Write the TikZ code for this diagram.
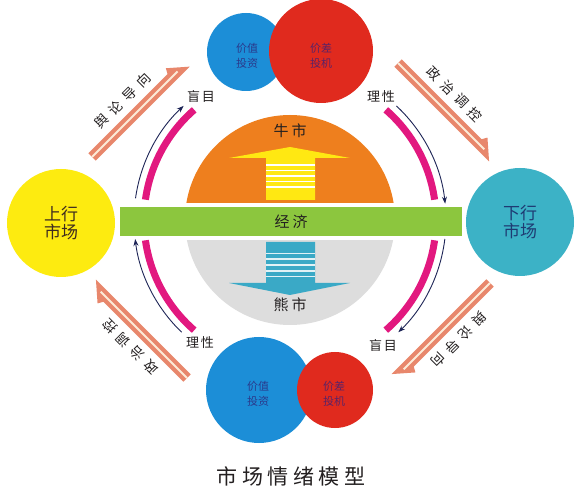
\documentclass[tikz,border=0pt]{standalone}
\usepackage{fontspec}
\setmainfont{Noto Sans CJK SC}
\usetikzlibrary{arrows.meta}
\definecolor{blueC}{HTML}{1C8ED7}
\definecolor{redC}{HTML}{E02A1E}
\definecolor{yellowC}{HTML}{FDEB10}
\definecolor{tealC}{HTML}{3CB2C6}
\definecolor{orangeC}{HTML}{EE7F1E}
\definecolor{grayC}{HTML}{DDDDDD}
\definecolor{greenC}{HTML}{8CC63E}
\definecolor{yellowA}{HTML}{FFE812}
\definecolor{tealA}{HTML}{3AA9C6}
\definecolor{magentaC}{HTML}{E2187F}
\definecolor{navyC}{HTML}{1E2557}
\definecolor{salmonC}{HTML}{E8876C}
\definecolor{creamC}{HTML}{FCEBD8}
\definecolor{darkT}{HTML}{231F20}
\definecolor{blueT}{HTML}{2A3A8C}
\definecolor{redT}{HTML}{5B2366}
\definecolor{brownT}{HTML}{3D2B1F}
\definecolor{navyT}{HTML}{1F3B73}
\newcommand{\salarrow}[5]{%
  \begin{scope}[shift={#1}, rotate=#2]
    \fill[salmonC] (0,-5.2) -- (#3,-5.2) -- ({#3-18},10.5) -- ({#3-21},5.2) -- (0,5.2) -- cycle;
    \fill[creamC] (0,-1) -- ({#3-12},-1) -- ({#3-12},1) -- (0,1) -- cycle;
    \node[arrowtext, transform shape] (#5) at ({#3/2-5},18) {#4};
  \end{scope}}
\begin{document}
\begin{tikzpicture}[x=1pt,y=1pt,
  disc/.style={circle, inner sep=0pt, minimum size=#1},
  circtext/.style={align=center, font=\fontsize{11}{15}\selectfont},
  bigtext/.style={align=center, font=\fontsize{17}{18}\selectfont},
  midtext/.style={font=\fontsize{15}{17}\selectfont, text=darkT},
  lab/.style={font=\fontsize{13}{15}\selectfont, text=darkT},
  arrowtext/.style={font=\fontsize{13.5}{15}\selectfont, text=darkT},
  magarc/.style={magentaC, line width=7pt},
  navyarc/.style={navyC, line width=0.9pt, -{Stealth[length=7pt,width=5pt]}},
  stripe/.style={line width=1.2pt}
]
\fill[white] (0,0) rectangle (578,490);
\useasboundingbox (0,0) rectangle (578,490);

% central disc
\coordinate (C) at (290,270);
\fill[orangeC] (C) ++(0:105) arc[start angle=0,end angle=180,radius=105] -- cycle;
\fill[grayC] (C) ++(180:105) arc[start angle=180,end angle=360,radius=105] -- cycle;

% up arrow (bull)
\fill[yellowA] (229,332) -- (290,343) -- (350,332) -- (315,332) -- (315,290) -- (266,290) -- (266,332) -- cycle;
\foreach \yy in {325,319.5,314,308.5,303} \draw[white, stripe] (266,\yy) -- (315,\yy);
% down arrow (bear)
\fill[tealA] (266,248) -- (315,248) -- (315,207) -- (350,207) -- (290,195) -- (229,207) -- (266,207) -- cycle;
\foreach \yy in {236.7,231,225,219,213.3} \draw[white!85!tealA, stripe] (266,\yy) -- (315,\yy);

\node[midtext] (bull) at (290,359) {牛\hspace{3pt}市};
\node[midtext] (bear) at (290,185) {熊\hspace{3pt}市};

% economy bar
\fill[white] (116,250) rectangle (466,287);
\node[fill=greenC, minimum width=342pt, minimum height=29pt, inner sep=0pt, midtext] (eco) at (291,268.5) {经\hspace{3pt}济};

% magenta arcs
\draw[magarc] ([shift={(131:146)}]C) arc[start angle=131,end angle=172,radius=146];
\draw[magarc] ([shift={(8:146)}]C) arc[start angle=8,end angle=49,radius=146];
\draw[magarc] ([shift={(-49:146)}]C) arc[start angle=-49,end angle=-8,radius=146];
\draw[magarc] ([shift={(188:146)}]C) arc[start angle=188,end angle=229,radius=146];

% navy arrows
\draw[navyarc] ([shift={(172:156)}]C) arc[start angle=172,end angle=133,radius=156];
\draw[navyarc] ([shift={(47:156)}]C) arc[start angle=47,end angle=6,radius=156];
\draw[navyarc] ([shift={(-7:156)}]C) arc[start angle=-7,end angle=-46,radius=156];
\draw[navyarc] ([shift={(226:156)}]C) arc[start angle=226,end angle=187,radius=156];

% labels
\node[lab] (m1) at (201,394) {盲\hspace{2pt}目};
\node[lab] (r1) at (381,393) {理\hspace{2pt}性};
\node[lab] (r2) at (200,147) {理\hspace{2pt}性};
\node[lab] (m2) at (383,145) {盲\hspace{2pt}目};

% salmon arrows
\salarrow{(92,333)}{45}{133}{舆\hspace{6pt}论\hspace{6pt}导\hspace{6pt}向}{t1}
\salarrow{(398,427)}{-45}{134}{政\hspace{6pt}治\hspace{6pt}调\hspace{6pt}控}{t2}
\salarrow{(187,112)}{135}{134}{政\hspace{6pt}治\hspace{6pt}调\hspace{6pt}控}{t3}
\salarrow{(490,207)}{225}{134}{舆\hspace{6pt}论\hspace{6pt}导\hspace{6pt}向}{t4}

% top circles
\node[disc=78pt, fill=blueC] (tb) at (246,438) {};
\node[circtext, text=blueT] (tbt) at (247,434) {价值\\投资};
\node[disc=104pt, fill=redC] (tr) at (321,439) {};
\node[circtext, text=redT] (trt) at (321,434) {价差\\投机};

% bottom circles
\node[disc=106pt, fill=blueC] (bb) at (259,100) {};
\node[circtext, text=blueT] (bbt) at (258,96) {价值\\投资};
\node[disc=76pt, fill=redC] (br) at (335,100) {};
\node[circtext, text=redT] (brt) at (334,96) {价差\\投机};

% side circles
\node[disc=108pt, fill=yellowC, bigtext, text=brownT] (up) at (61,267) {上行\\市场};
\node[disc=108pt, fill=tealC, bigtext, text=navyT] (down) at (520,268) {下行\\市场};

% title
\node[font=\fontsize{21}{24}\selectfont, text=darkT] (ttl) at (291,14) {市\hspace{4.5pt}场\hspace{4.5pt}情\hspace{4.5pt}绪\hspace{4.5pt}模\hspace{4.5pt}型};
\end{tikzpicture}
\end{document}
